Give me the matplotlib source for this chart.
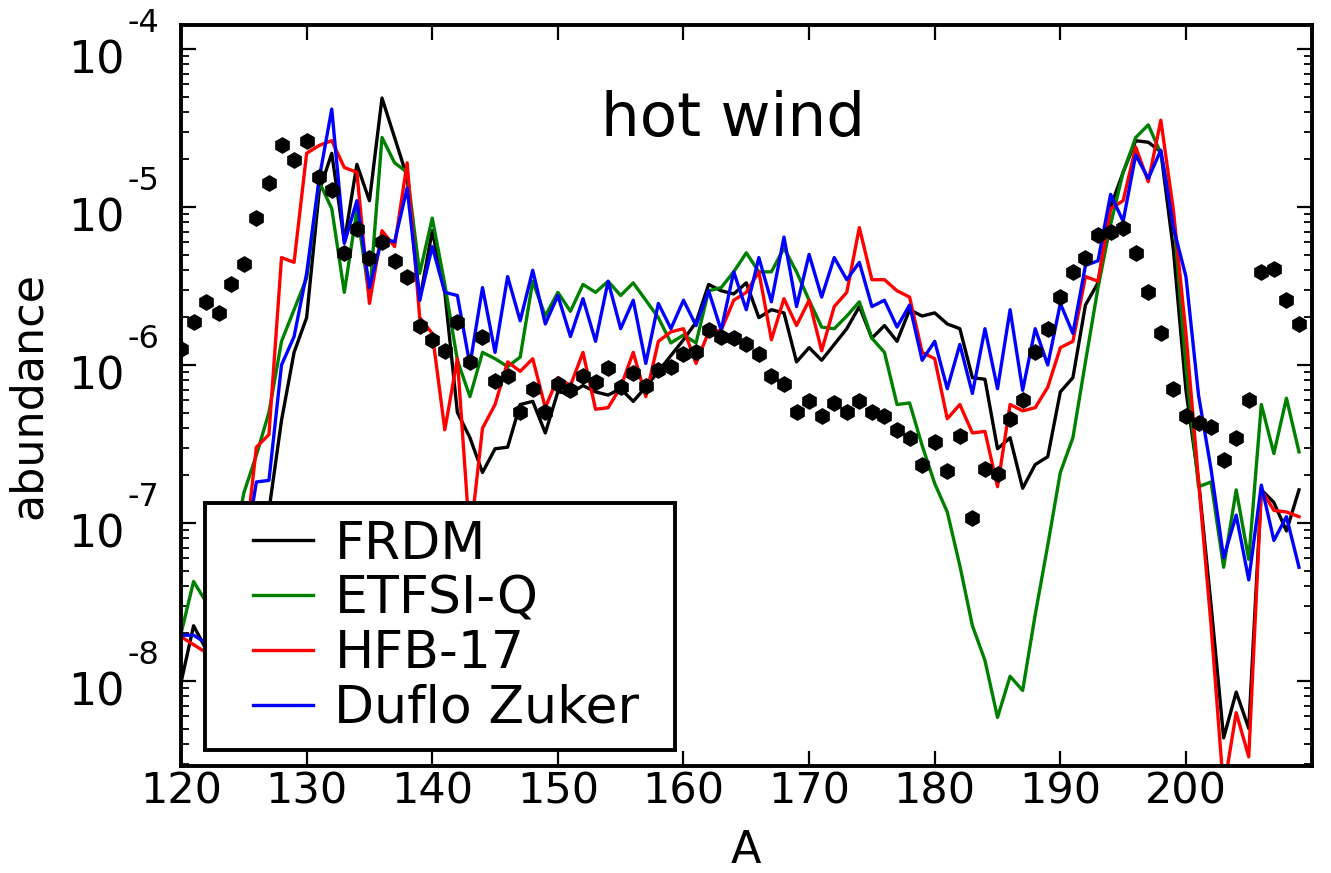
import numpy as np
import matplotlib
matplotlib.use('Agg')
import matplotlib.pyplot as plt
from matplotlib.transforms import blended_transform_factory, offset_copy
from matplotlib.legend_handler import HandlerLine2D
from matplotlib.lines import Line2D

# mass numbers A = 120 ... 209
mass = np.arange(120, 210)

# log10(abundance), one value per mass number
solar_r = [-5.90, -5.73, -5.60, -5.67, -5.49, -5.36, -5.07, -4.85, -4.61, -4.70,
           -4.58, -4.81, -4.89, -5.29, -5.14, -5.32, -5.22, -5.34, -5.44, -5.75,
           -5.84, -5.91, -5.73, -5.98, -5.82, -6.10, -6.07, -6.30, -6.15, -6.30,
           -6.12, -6.16, -6.07, -6.11, -6.02, -6.14, -6.05, -6.13, -6.03, -6.01,
           -5.93, -5.92, -5.78, -5.82, -5.83, -5.87, -5.93, -6.07, -6.12, -6.30,
           -6.23, -6.32, -6.24, -6.30, -6.23, -6.30, -6.32, -6.41, -6.46, -6.63,
           -6.49, -6.67, -6.45, -6.97, -6.66, -6.69, -6.34, -6.22, -5.92, -5.77,
           -5.57, -5.41, -5.32, -5.18, -5.16, -5.13, -5.29, -5.54, -5.80, -6.15,
           -6.32, -6.37, -6.39, -6.60, -6.46, -6.22, -5.41, -5.39, -5.59, -5.74]

frdm = [-8.01, -7.65, -7.80, -8.12, -7.99, -7.74, -7.36, -6.92, -6.35, -5.92,
        -5.70, -4.90, -4.66, -5.22, -4.73, -4.96, -4.31, -4.56, -4.81, -5.59,
        -5.15, -5.54, -6.30, -6.46, -6.68, -6.53, -6.52, -6.25, -6.23, -6.43,
        -6.17, -6.18, -6.13, -6.17, -6.19, -6.15, -6.23, -6.14, -6.04, -5.94,
        -5.84, -5.73, -5.49, -5.53, -5.55, -5.48, -5.70, -5.65, -5.67, -5.98,
        -5.89, -5.97, -5.87, -5.77, -5.63, -5.83, -5.75, -5.85, -5.65, -5.69,
        -5.67, -5.74, -5.77, -6.08, -6.09, -6.53, -6.46, -6.78, -6.63, -6.58,
        -6.17, -6.08, -5.62, -5.48, -5.00, -4.78, -4.58, -4.59, -4.65, -5.27,
        -6.16, -6.73, -7.52, -8.36, -8.07, -8.30, -6.79, -6.87, -7.05, -6.79]

etfsi_q = [-7.70, -7.37, -7.50, -7.61, -7.23, -6.81, -6.57, -6.30, -5.85, -5.65,
           -5.45, -4.84, -5.01, -5.54, -5.02, -5.57, -4.56, -4.72, -4.78, -5.42,
           -5.07, -5.49, -5.97, -6.20, -5.92, -5.96, -6.01, -5.95, -5.47, -5.69,
           -5.54, -5.66, -5.49, -5.54, -5.47, -5.56, -5.48, -5.59, -5.70, -5.86,
           -5.81, -5.86, -5.53, -5.51, -5.41, -5.29, -5.41, -5.41, -5.26, -5.41,
           -5.59, -5.76, -5.77, -5.69, -5.60, -5.83, -5.92, -6.25, -6.24, -6.51,
           -6.75, -6.93, -7.27, -7.65, -7.87, -8.23, -7.97, -8.06, -7.58, -7.14,
           -6.68, -6.46, -5.98, -5.51, -5.11, -4.78, -4.56, -4.48, -4.66, -5.06,
           -6.01, -6.77, -6.74, -7.28, -6.79, -7.23, -6.25, -6.56, -6.21, -6.55]

hfb17 = [-7.72, -7.77, -7.82, -7.74, -7.55, -7.23, -6.52, -6.44, -5.32, -5.35,
         -4.66, -4.61, -4.58, -4.75, -4.78, -5.61, -5.15, -5.25, -4.72, -5.70,
         -5.80, -6.41, -5.96, -7.11, -6.40, -6.25, -5.98, -6.04, -5.96, -6.27,
         -6.08, -6.13, -5.92, -6.28, -6.27, -6.14, -5.92, -6.20, -5.85, -5.79,
         -5.77, -5.99, -5.79, -5.78, -5.59, -5.54, -5.41, -5.84, -5.58, -5.75,
         -5.59, -5.91, -5.63, -5.54, -5.13, -5.46, -5.46, -5.53, -5.57, -5.92,
         -5.96, -6.34, -6.25, -6.43, -6.42, -6.77, -6.25, -6.29, -6.27, -6.14,
         -5.89, -5.85, -5.44, -5.47, -5.01, -4.96, -4.62, -4.84, -4.45, -5.02,
         -5.80, -6.73, -7.65, -8.69, -8.20, -8.48, -6.79, -6.92, -6.93, -6.96]

duflo_zuker = [-7.71, -7.71, -7.76, -7.80, -7.61, -7.23, -6.74, -6.73, -6.00, -5.82,
               -5.42, -4.82, -4.38, -5.23, -4.96, -5.51, -5.20, -5.22, -4.88, -5.59,
               -5.25, -5.54, -5.56, -6.00, -5.51, -5.92, -5.44, -5.72, -5.40, -5.74,
               -5.56, -5.82, -5.58, -5.85, -5.47, -5.77, -5.59, -5.99, -5.61, -5.77,
               -5.59, -5.75, -5.53, -5.78, -5.41, -5.65, -5.32, -5.60, -5.19, -5.63,
               -5.30, -5.57, -5.32, -5.46, -5.35, -5.63, -5.59, -5.76, -5.62, -5.97,
               -5.85, -6.15, -5.87, -6.18, -5.77, -6.15, -5.65, -6.16, -5.77, -6.00,
               -5.61, -5.80, -5.37, -5.34, -4.92, -5.09, -4.67, -4.82, -4.64, -5.13,
               -5.44, -6.19, -6.66, -7.22, -6.95, -7.36, -6.76, -7.11, -6.96, -7.28]

models = [('FRDM', frdm, 'black'),
          ('ETFSI-Q', etfsi_q, 'green'),
          ('HFB-17', hfb17, '#ff0000'),
          ('Duflo Zuker', duflo_zuker, '#0000ff')]

decades = [-8, -7, -6, -5, -4]

fig = plt.figure(figsize=(13.31, 8.73), dpi=100)
ax = fig.add_axes([0.136, 0.1226, 0.8494, 0.8488])

for label, vals, col in models:
    ax.plot(mass, 10.0 ** np.array(vals), color=col, lw=2.4, label=label)

ax.plot(mass, 10.0 ** np.array(solar_r), 'h', color='black', ms=11, zorder=5)

ax.set_yscale('log')
ax.set_xlim(120, 210)
ax.set_ylim(2.9e-9, 1.42e-4)
ax.set_xticks(np.arange(120, 201, 10))

ax.tick_params(which='both', direction='in', top=True, right=True)
ax.tick_params(axis='x', labelsize=31, pad=3)
ax.tick_params(axis='y', labelleft=False)
ax.tick_params(which='major', length=11, width=1.6)
ax.tick_params(which='minor', length=6, width=1.3)
for sp in ax.spines.values():
    sp.set_linewidth(2.8)

# y tick labels drawn as "10" with a raised exponent, like the original
trans = blended_transform_factory(ax.transAxes, ax.transData)
base_tr = offset_copy(trans, fig=fig, x=0, y=-12, units='dots')
exp_tr = offset_copy(trans, fig=fig, x=0, y=26, units='dots')
for d in decades:
    ax.text(-0.0495, 10.0 ** d, '10', transform=base_tr, ha='right', va='center',
            fontsize=32, clip_on=False)
    ax.text(-0.0475, 10.0 ** d, str(d), transform=exp_tr, ha='left', va='center',
            fontsize=23, clip_on=False)

ax.set_xlabel('A', fontsize=32, labelpad=12)
ax.set_ylabel('abundance', fontsize=32)
ax.yaxis.set_label_coords(-0.116, 0.5)

ax.text(0.488, 0.872, 'hot wind', transform=ax.transAxes, fontsize=44,
        ha='center', va='center')

leg = ax.legend(loc='lower left', bbox_to_anchor=(0.021, 0.021, 0.416, 0.33),
                mode='expand', borderaxespad=0,
                fontsize=37.5, handlelength=1.75, handletextpad=0.42, labelspacing=0.09,
                borderpad=0.32, fancybox=False, framealpha=1,
                handler_map={Line2D: HandlerLine2D(xpad=0.6)})
leg.get_frame().set_edgecolor('black')
leg.get_frame().set_linewidth(2.8)
leg.set_zorder(10)

fig.savefig('out.png', dpi=100)
